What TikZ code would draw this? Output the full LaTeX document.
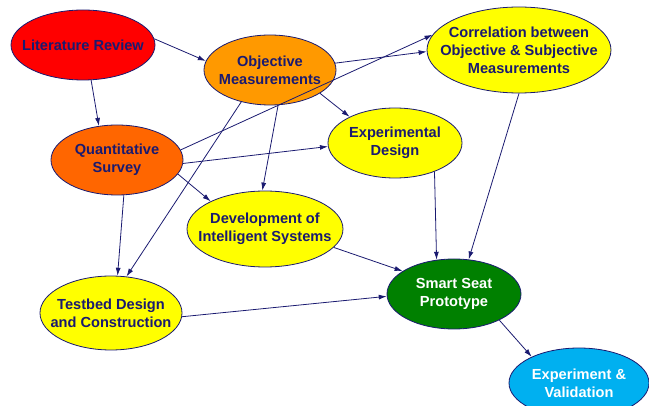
\documentclass[tikz,border=0pt]{standalone}
\usepackage{fontspec}
\setmainfont{Liberation Sans}
\usepackage{tikz}
\usetikzlibrary{shapes.geometric}
\usetikzlibrary{arrows.meta}

\definecolor{ink}{RGB}{26,26,112}
\definecolor{litred}{RGB}{255,0,0}
\definecolor{objorange}{RGB}{255,153,0}
\definecolor{quantorange}{RGB}{255,102,0}
\definecolor{stepyellow}{RGB}{255,255,0}
\definecolor{seatgreen}{RGB}{0,128,0}
\definecolor{valblue}{RGB}{0,176,240}

\begin{document}
\begin{tikzpicture}[x=1pt,y=-1pt,
    bub/.style={ellipse,draw=ink,line width=0.8pt,inner sep=0pt},
    txt/.style={align=center,text=ink,font=\fontsize{14.6}{18}\selectfont\bfseries},
    wtxt/.style={txt,text=white},
    arr/.style={draw=ink,line width=0.8pt,-{Latex[length=8pt,width=5pt]}}]
        \useasboundingbox (0,0) rectangle (649,406);
        % the stages
        \node[bub,fill=litred,minimum width=144pt,minimum height=70pt,
          label={[txt]center:Literature Review}] (lit) at (83,45) {};
        \node[bub,fill=objorange,minimum width=132pt,minimum height=70pt,
          label={[txt]center:{Objective\\Measurements}}] (obj) at (270,70) {};
        \node[bub,fill=quantorange,minimum width=132pt,minimum height=70pt,
          label={[txt]center:{Quantitative\\Survey}}] (quant) at (117,160) {};
        \node[bub,fill=stepyellow,minimum width=184pt,minimum height=86pt,
          label={[txt]center:{Correlation between\\Objective \& Subjective\\Measurements}}] (corr) at (519,50) {};
        \node[bub,fill=stepyellow,minimum width=134pt,minimum height=70pt,
          label={[txt]center:{Experimental\\Design}}] (exp) at (395,143) {};
        \node[bub,fill=stepyellow,minimum width=156pt,minimum height=76pt,
          label={[txt]center:{Development of\\Intelligent Systems}}] (dev) at (265,229) {};
        \node[bub,fill=stepyellow,minimum width=142pt,minimum height=74pt,
          label={[txt]center:{Testbed Design\\and Construction}}] (test) at (111,313) {};
        \node[bub,fill=seatgreen,minimum width=134pt,minimum height=70pt,
          label={[wtxt]center:{Smart Seat\\Prototype}}] (seat) at (454,294) {};
        \node[bub,fill=valblue,minimum width=140pt,minimum height=70pt,
          label={[wtxt]center:{Experiment \&\\Validation}}] (val) at (579,383) {};
        % the links
        \foreach \a/\b in {%
          lit.5/obj.172, lit.-77/quant.118,
          obj.6/corr.181, obj.-25/exp.150, obj.-77/dev.94, obj.-132/test.67,
          quant.9/corr.170, quant.-3/exp.183, quant.-13/dev.153, quant.-79/test.80,
          corr.-90/seat.67, exp.-36/seat.117, dev.-15/seat.156, test.-3/seat.182,
          seat.-30/val.151} {
            \draw[arr] (\a) -- (\b);
        }
      \end{tikzpicture}
\end{document}
